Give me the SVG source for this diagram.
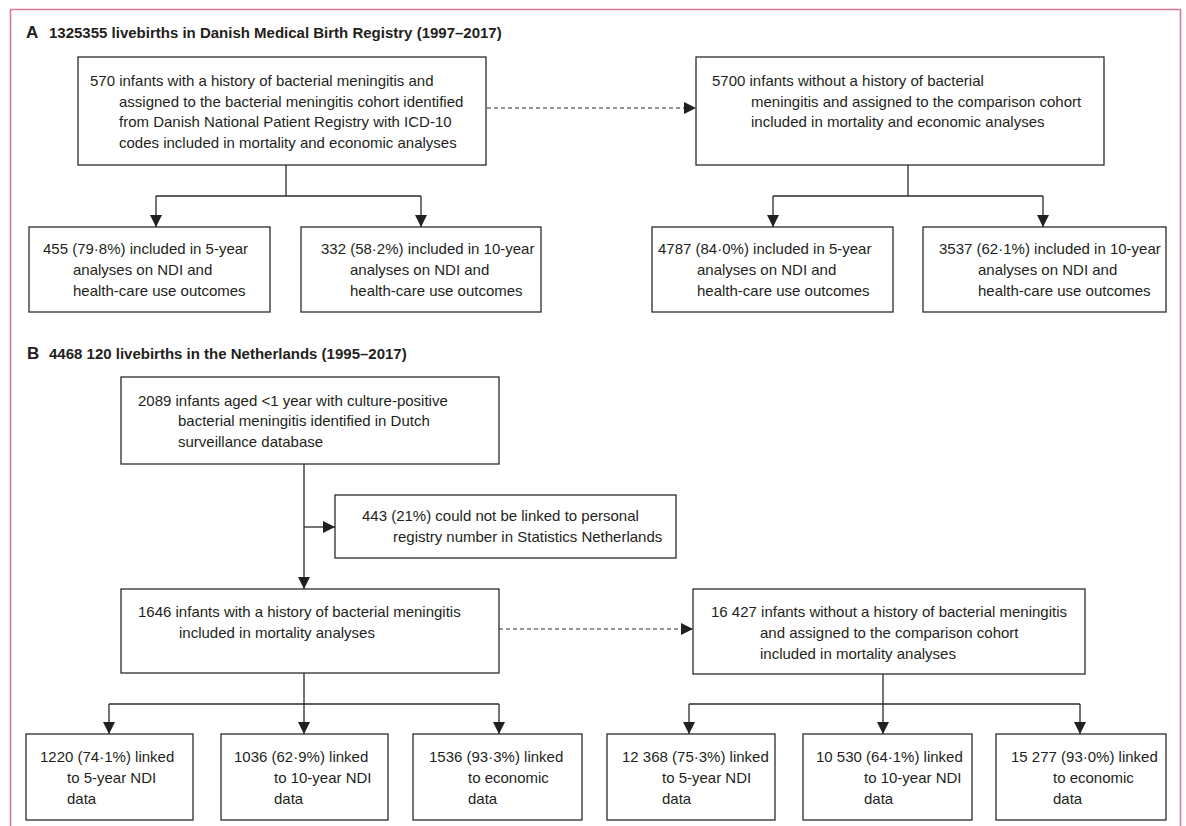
<svg xmlns="http://www.w3.org/2000/svg" width="1186" height="826" viewBox="0 0 1186 826">
<defs>
<style>
.box{fill:#fff;stroke:#2b2b2b;stroke-width:1.3}
.t{font-family:"Liberation Sans",Arial,sans-serif;font-size:15px;fill:#231f20}
.h{font-family:"Liberation Sans",Arial,sans-serif;font-size:15px;font-weight:bold;fill:#231f20}
.hl{font-family:"Liberation Sans",Arial,sans-serif;font-size:17px;font-weight:bold;fill:#231f20}
.ln{fill:none;stroke:#2b2b2b;stroke-width:1.3}
.ar{fill:none;stroke:#2b2b2b;stroke-width:1.3;marker-end:url(#ah)}
.da{fill:none;stroke:#2b2b2b;stroke-width:1.2;stroke-dasharray:4 3;marker-end:url(#ah)}
</style>
<marker id="ah" viewBox="0 0 12 12" refX="12" refY="6" markerWidth="12" markerHeight="12" markerUnits="userSpaceOnUse" orient="auto">
<path d="M0,0 L12,6 L0,12 Z" fill="#231f20"/>
</marker>
</defs>
<rect width="1186" height="826" fill="#fff"/>
<path d="M10.5,840 V9.5 H1180.5 V840" fill="none" stroke="#d87a95" stroke-width="1.6"/>

<g id="titleA">
<text class="hl" x="26" y="38">A</text>
<text class="h" x="49" y="38">1325355 livebirths in Danish Medical Birth Registry (1997–2017)</text>
</g>
<g id="titleB">
<text class="hl" x="27" y="359">B</text>
<text class="h" x="49" y="359">4468 120 livebirths in the Netherlands (1995–2017)</text>
</g>

<g id="connectors">
<path class="da" d="M487,108 H696"/>
<path class="ln" d="M286,165 V196 M156,196 H421"/>
<path class="ar" d="M156,196 V227"/>
<path class="ar" d="M421,196 V227"/>
<path class="ln" d="M908,165 V196 M773,196 H1043"/>
<path class="ar" d="M773,196 V227"/>
<path class="ar" d="M1043,196 V227"/>
<path class="ar" d="M304,464 V589"/>
<path class="ar" d="M304,527 H335"/>
<path class="da" d="M499,629 H693"/>
<path class="ln" d="M304,673 V704 M109,704 H499"/>
<path class="ar" d="M109,704 V734"/>
<path class="ar" d="M304,704 V734"/>
<path class="ar" d="M499,704 V734"/>
<path class="ln" d="M883,674 V704 M689,704 H1080"/>
<path class="ar" d="M689,704 V734"/>
<path class="ar" d="M883,704 V734"/>
<path class="ar" d="M1080,704 V734"/>
</g>

<g id="nodeA1">
<rect class="box" x="78" y="57" width="408" height="108"/>
<text class="t" x="90" y="86">570 infants with a history of bacterial meningitis and</text>
<text class="t" x="119" y="107">assigned to the bacterial meningitis cohort identified</text>
<text class="t" x="119" y="127">from Danish National Patient Registry with ICD-10</text>
<text class="t" x="119" y="148">codes included in mortality and economic analyses</text>
</g>
<g id="nodeA2">
<rect class="box" x="696" y="57" width="408" height="108"/>
<text class="t" x="712" y="86">5700 infants without a history of bacterial</text>
<text class="t" x="751" y="107">meningitis and assigned to the comparison cohort</text>
<text class="t" x="751" y="127">included in mortality and economic analyses</text>
</g>
<g id="nodeA1a">
<rect class="box" x="29" y="227" width="241" height="85"/>
<text class="t" x="43" y="254">455 (79·8%) included in 5-year</text>
<text class="t" x="73" y="275">analyses on NDI and</text>
<text class="t" x="73" y="296">health-care use outcomes</text>
</g>
<g id="nodeA1b">
<rect class="box" x="301" y="227" width="240" height="85"/>
<text class="t" x="321" y="254">332 (58·2%) included in 10-year</text>
<text class="t" x="350" y="275">analyses on NDI and</text>
<text class="t" x="350" y="296">health-care use outcomes</text>
</g>
<g id="nodeA2a">
<rect class="box" x="652" y="227" width="241" height="85"/>
<text class="t" x="658" y="254">4787 (84·0%) included in 5-year</text>
<text class="t" x="697" y="275">analyses on NDI and</text>
<text class="t" x="697" y="296">health-care use outcomes</text>
</g>
<g id="nodeA2b">
<rect class="box" x="923" y="227" width="243" height="85"/>
<text class="t" x="939" y="254">3537 (62·1%) included in 10-year</text>
<text class="t" x="978" y="275">analyses on NDI and</text>
<text class="t" x="978" y="296">health-care use outcomes</text>
</g>

<g id="nodeB1">
<rect class="box" x="121" y="377" width="378" height="87"/>
<text class="t" x="138" y="406">2089 infants aged &lt;1 year with culture-positive</text>
<text class="t" x="178" y="426">bacterial meningitis identified in Dutch</text>
<text class="t" x="178" y="447">surveillance database</text>
</g>
<g id="nodeExcl">
<rect class="box" x="335" y="495" width="341" height="63"/>
<text class="t" x="362" y="521">443 (21%) could not be linked to personal</text>
<text class="t" x="393" y="542">registry number in Statistics Netherlands</text>
</g>
<g id="nodeB2">
<rect class="box" x="121" y="589" width="378" height="84"/>
<text class="t" x="138" y="617">1646 infants with a history of bacterial meningitis</text>
<text class="t" x="179" y="638">included in mortality analyses</text>
</g>
<g id="nodeB3">
<rect class="box" x="693" y="589" width="392" height="85"/>
<text class="t" x="711" y="617">16 427 infants without a history of bacterial meningitis</text>
<text class="t" x="760" y="638">and assigned to the comparison cohort</text>
<text class="t" x="760" y="659">included in mortality analyses</text>
</g>
<g id="nodeB2a">
<rect class="box" x="26" y="734" width="167" height="86"/>
<text class="t" x="40" y="762">1220 (74·1%) linked</text>
<text class="t" x="67" y="783">to 5-year NDI</text>
<text class="t" x="67" y="804">data</text>
</g>
<g id="nodeB2b">
<rect class="box" x="221" y="734" width="167" height="86"/>
<text class="t" x="234" y="762">1036 (62·9%) linked</text>
<text class="t" x="274" y="783">to 10-year NDI</text>
<text class="t" x="274" y="804">data</text>
</g>
<g id="nodeB2c">
<rect class="box" x="413" y="734" width="169" height="86"/>
<text class="t" x="429" y="762">1536 (93·3%) linked</text>
<text class="t" x="468" y="783">to economic</text>
<text class="t" x="468" y="804">data</text>
</g>
<g id="nodeB3a">
<rect class="box" x="607" y="734" width="168" height="86"/>
<text class="t" x="622" y="762">12 368 (75·3%) linked</text>
<text class="t" x="662" y="783">to 5-year NDI</text>
<text class="t" x="662" y="804">data</text>
</g>
<g id="nodeB3b">
<rect class="box" x="803" y="734" width="169" height="86"/>
<text class="t" x="816" y="762">10 530 (64·1%) linked</text>
<text class="t" x="864" y="783">to 10-year NDI</text>
<text class="t" x="864" y="804">data</text>
</g>
<g id="nodeB3c">
<rect class="box" x="996" y="734" width="170" height="86"/>
<text class="t" x="1011" y="762">15 277 (93·0%) linked</text>
<text class="t" x="1053" y="783">to economic</text>
<text class="t" x="1053" y="804">data</text>
</g>
</svg>
